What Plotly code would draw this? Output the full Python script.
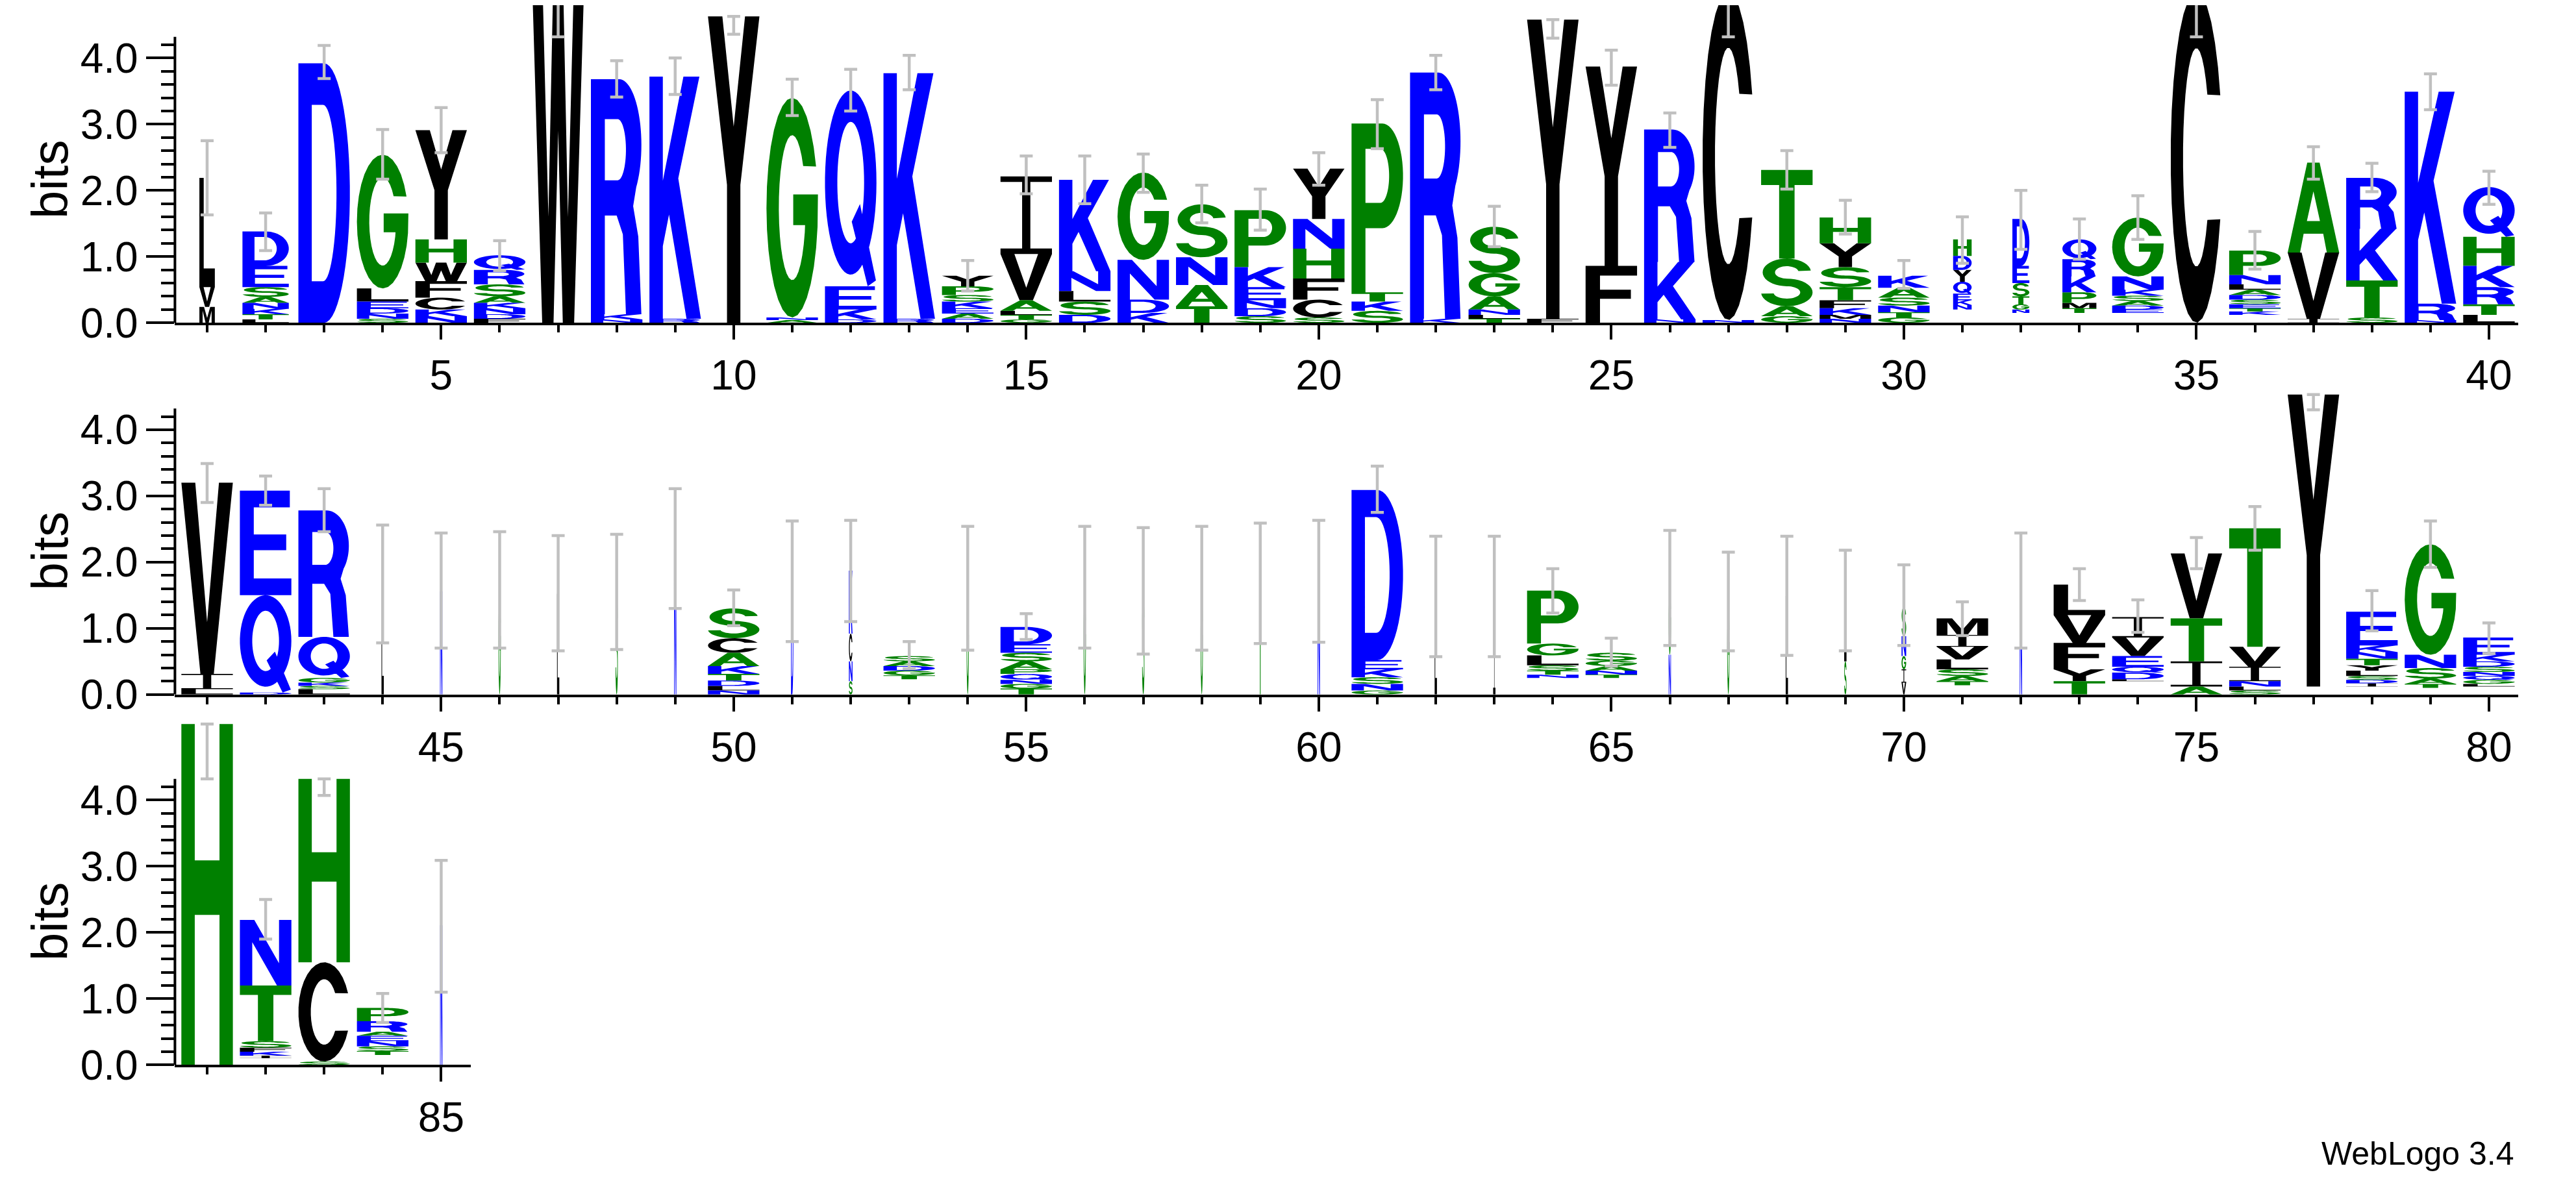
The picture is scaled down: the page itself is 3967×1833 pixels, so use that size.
import numpy as np
import plotly.graph_objects as go

# ---- values read off the logo: letters listed bottom -> top, heights in bits ----
# '-' stands for the pile of letters too small to see at the foot of a stack
positions = list(range(1, 86))

stack_letters = [
    "MVL", "LTKNASED", "D", "SNDELG", "NKCFWHY", "FDNKASRQ", "W", "NKR", "RK", "Y",
    "ANG", "DKEQ", "RK", "DAEKSPY", "GTLAVI", "DSLNK", "KDNG", "TANS", "SDNEKP", "SCFHNY",
    "SKTP", "KR", "TLNAGS", "FY", "FY", "NKR", "NC", "GAST", "NMKFTSYH", "GTNSAK",
    "-NKEQYDH", "-NGTSED", "-TMPKRQ", "-EDASKNG", "C", "-KTESDALNP", "IVA", "STKR", "NRK", "LTRKHQ",
    "LIV", "DQE", "LSKGQR", "L", "N", "G", "L", "S", "N", "NLDTKACS",
    "D", "SNCK", "-TGDAS", "G", "TGNQPASED", "G", "S", "G", "T", "N",
    "GNSKED", "L", "I", "-NTSLGP", "-TNAGS", "NG", "G", "L", "SL", "VIGNS",
    "-TASLVIM", "N", "TYFVL", "-LDQEVI", "AITV", "SLNIVT", "-Y", "-IDSLYTNKE", "-TASNG", "-LGQNSDKE",
    "H", "-IKFSTN", "SCH", "-TSNEARP", "N",
]

stack_heights = [
    [0.24, 0.30, 1.65], [0.05, 0.08, 0.08, 0.09, 0.09, 0.15, 0.32, 0.52], [3.92],
    [0.06, 0.08, 0.08, 0.10, 0.20, 2.02], [0.10, 0.10, 0.18, 0.25, 0.28, 0.35, 1.65],
    [0.06, 0.07, 0.09, 0.08, 0.10, 0.18, 0.22, 0.22], [5.0], [0.05, 0.08, 3.55], [0.06, 3.66], [4.63],
    [0.04, 0.04, 3.32], [0.05, 0.15, 0.35, 2.96], [0.06, 3.71], [0.06, 0.08, 0.08, 0.10, 0.10, 0.13, 0.16],
    [0.05, 0.07, 0.06, 0.16, 0.70, 1.17], [0.12, 0.20, 0.16, 0.30, 1.38], [0.15, 0.20, 0.60, 1.32],
    [0.25, 0.32, 0.42, 0.80], [0.10, 0.12, 0.12, 0.20, 0.30, 0.86], [0.08, 0.27, 0.32, 0.45, 0.45, 0.76],
    [0.18, 0.14, 0.14, 2.55], [0.06, 3.72], [0.06, 0.06, 0.08, 0.20, 0.35, 0.70], [0.06, 4.52],
    [0.86, 3.01], [0.05, 0.87, 2.00], [0.04, 4.96], [0.10, 0.15, 0.72, 1.34],
    [0.06, 0.06, 0.10, 0.12, 0.20, 0.30, 0.36, 0.39], [0.08, 0.08, 0.10, 0.12, 0.15, 0.18],
    [0.20, 0.07, 0.07, 0.10, 0.18, 0.18, 0.21, 0.25], [0.15, 0.05, 0.08, 0.12, 0.20, 0.26, 0.71],
    [0.15, 0.07, 0.08, 0.16, 0.24, 0.26, 0.30], [0.15, 0.05, 0.06, 0.07, 0.08, 0.09, 0.20, 0.89], [5.0],
    [0.12, 0.05, 0.05, 0.06, 0.07, 0.07, 0.08, 0.08, 0.14, 0.37], [0.06, 1.00, 1.36],
    [0.08, 0.56, 0.78, 0.77], [0.04, 0.25, 3.20], [0.12, 0.16, 0.26, 0.32, 0.44, 0.75],
    [0.08, 0.23, 2.89], [0.03, 1.47, 1.58], [0.08, 0.05, 0.05, 0.07, 0.62, 1.91],
    [1.66], [1.56], [1.58], [1.52], [1.54], [2.20], [0.06, 0.07, 0.08, 0.10, 0.12, 0.20, 0.22, 0.45],
    [1.71], [0.20, 0.30, 0.42, 0.95], [0.23, 0.06, 0.07, 0.07, 0.07, 0.08], [1.61],
    [0.09, 0.07, 0.06, 0.09, 0.07, 0.12, 0.13, 0.13, 0.26], [1.63], [1.56], [1.61], [1.68], [1.71],
    [0.06, 0.10, 0.10, 0.12, 0.14, 2.57], [1.47], [1.47], [0.25, 0.05, 0.06, 0.08, 0.15, 0.18, 0.80],
    [0.25, 0.05, 0.06, 0.07, 0.08, 0.12], [0.60, 1.01], [1.42], [1.49], [0.50, 0.92],
    [0.18, 0.20, 0.20, 0.30, 0.44],
    [0.14, 0.06, 0.08, 0.10, 0.15, 0.19, 0.18, 0.25], [1.56], [0.20, 0.18, 0.40, 0.42, 0.46],
    [0.20, 0.03, 0.10, 0.09, 0.16, 0.28, 0.31], [0.12, 0.38, 0.65, 0.98], [0.06, 0.06, 0.08, 0.22, 0.30, 1.79],
    [0.12, 4.41], [0.12, 0.05, 0.05, 0.06, 0.08, 0.08, 0.10, 0.10, 0.10, 0.51],
    [0.10, 0.06, 0.08, 0.16, 0.20, 1.67], [0.12, 0.04, 0.06, 0.06, 0.06, 0.08, 0.08, 0.10, 0.26],
    [5.15], [0.10, 0.04, 0.06, 0.06, 0.10, 0.84, 0.99], [0.05, 1.50, 2.77],
    [0.15, 0.06, 0.07, 0.08, 0.08, 0.06, 0.16, 0.20], [2.11],
]

# relative stack width (share of sequences without a gap)
thin = {44, 45, 46, 47, 48, 49, 51, 54, 56, 57, 58, 59, 60, 62, 63, 66, 67, 68, 69, 72, 85}
stack_width = [0.045 if p in thin else 1.0 for p in positions]
for p, w in {1: 0.3, 2: 0.9, 31: 0.36, 32: 0.33, 33: 0.66, 52: 0.07, 70: 0.09}.items():
    stack_width[p - 1] = w

err_low = [1.63, 1.09, 3.69, 2.17, 2.57, 0.79, 4.32, 3.41, 3.45, 4.36,
           3.13, 3.20, 3.52, 0.48, 1.95, 1.80, 1.97, 1.51, 1.40, 2.08,
           2.63, 3.52, 1.15, 4.30, 3.59, 2.65, 4.32, 2.02, 1.34, 0.52,
           0.90, 1.11, 0.96, 1.26, 4.32, 0.81, 2.17, 1.98, 3.22, 1.79,
           2.90, 2.86, 2.46, 0.78, 0.70, 0.70, 0.66, 0.68, 1.30, 1.04,
           0.80, 1.10, 0.39, 0.67, 0.83, 0.70, 0.61, 0.67, 0.77, 0.79,
           2.75, 0.57, 0.57, 1.23, 0.43, 0.74, 0.66, 0.59, 0.66, 0.74,
           0.89, 0.70, 1.42, 0.94, 1.90, 2.18, 4.30, 0.96, 1.92, 0.62,
           4.32, 1.90, 4.07, 0.64, 1.10]
err_high = [2.75, 1.66, 4.19, 2.92, 3.25, 1.24, 5.00, 3.96, 4.00, 4.61,
            3.68, 3.83, 4.04, 0.94, 2.52, 2.52, 2.55, 2.08, 2.02, 2.57,
            3.37, 4.04, 1.76, 4.56, 4.12, 3.17, 5.00, 2.60, 1.85, 0.94,
            1.60, 2.00, 1.57, 1.92, 5.00, 1.38, 2.66, 2.41, 3.76, 2.29,
            3.49, 3.30, 3.11, 2.56, 2.44, 2.46, 2.40, 2.42, 3.11, 1.58,
            2.62, 2.63, 0.80, 2.54, 1.22, 2.54, 2.52, 2.54, 2.59, 2.63,
            3.45, 2.39, 2.39, 1.90, 0.85, 2.48, 2.15, 2.39, 2.18, 1.96,
            1.40, 2.44, 1.90, 1.43, 2.37, 2.84, 4.52, 1.57, 2.62, 1.08,
            5.13, 2.50, 4.32, 1.08, 3.09]

rows = [(1, 40), (41, 80), (81, 85)]

# hydrophobicity colour scheme
COLORS = {}
for c in "RKDENQ":
    COLORS[c] = "#0000ff"
for c in "SGHTAP":
    COLORS[c] = "#008000"
for c in "YVMCLFIW":
    COLORS[c] = "#000000"


# ---- letter outlines in a unit box, stretched to each letter's box ----
def arc(cx, cy, rx, ry, a0, a1, n=30):
    t = np.radians(np.linspace(a0, a1, n))
    return [(cx + rx * np.cos(a), cy + ry * np.sin(a)) for a in t]


def area(p):
    x = np.array([q[0] for q in p])
    y = np.array([q[1] for q in p])
    return 0.5 * np.sum(x * np.roll(y, -1) - np.roll(x, -1) * y)


def ccw(p, want=True):
    return p if (area(p) > 0) == want else p[::-1]


def holed(outer, hole):
    o = ccw(outer, True)
    h = ccw(hole, False)
    return o + [o[0]] + h + [h[0], o[0]]


GLYPHS = {
    'A': [holed([(0, 0), (0.24, 0), (0.31, 0.21), (0.69, 0.21), (0.76, 0), (1, 0), (0.62, 1), (0.38, 1)],
                [(0.373, 0.35), (0.627, 0.35), (0.5, 0.68)])],
    'C': [arc(0.5, 0.5, 0.5, 0.5, 22, 338) + arc(0.5, 0.5, 0.26, 0.33, 325, 35)],
    'D': [holed([(0, 0), (0.5, 0)] + arc(0.5, 0.5, 0.5, 0.5, -90, 90) + [(0, 1)],
                [(0.26, 0.16), (0.48, 0.16)] + arc(0.48, 0.5, 0.26, 0.34, -90, 90) + [(0.26, 0.84)])],
    'E': [[(0, 0), (1, 0), (1, 0.16), (0.27, 0.16), (0.27, 0.43), (0.9, 0.43), (0.9, 0.58),
           (0.27, 0.58), (0.27, 0.84), (0.97, 0.84), (0.97, 1), (0, 1)]],
    'F': [[(0, 0), (0.28, 0), (0.28, 0.42), (0.88, 0.42), (0.88, 0.58), (0.28, 0.58),
           (0.28, 0.83), (1, 0.83), (1, 1), (0, 1)]],
    'G': [arc(0.5, 0.5, 0.5, 0.5, 22, 350) + [(1, 0.56), (0.52, 0.56), (0.52, 0.42), (0.75, 0.42)]
          + arc(0.5, 0.5, 0.26, 0.33, -20, -325)],
    'H': [[(0, 0), (0.26, 0), (0.26, 0.44), (0.74, 0.44), (0.74, 0), (1, 0), (1, 1), (0.74, 1),
           (0.74, 0.6), (0.26, 0.6), (0.26, 1), (0, 1)]],
    'I': [[(0, 0), (1, 0), (1, 0.07), (0.58, 0.07), (0.58, 0.93), (1, 0.93), (1, 1), (0, 1),
           (0, 0.93), (0.42, 0.93), (0.42, 0.07), (0, 0.07)]],
    'K': [[(0, 0), (0.26, 0), (0.26, 0.3), (0.38, 0.43), (0.72, 0), (1, 0), (0.56, 0.58),
           (0.97, 1), (0.66, 1), (0.26, 0.57), (0.26, 1), (0, 1)]],
    'L': [[(0, 0), (1, 0), (1, 0.17), (0.28, 0.17), (0.28, 1), (0, 1)]],
    'M': [[(0, 0), (0.21, 0), (0.21, 0.76), (0.4, 0), (0.6, 0), (0.79, 0.76), (0.79, 0), (1, 0),
           (1, 1), (0.7, 1), (0.5, 0.3), (0.3, 1), (0, 1)]],
    'N': [[(0, 0), (0.24, 0), (0.24, 0.66), (0.72, 0), (1, 0), (1, 1), (0.76, 1), (0.76, 0.34),
           (0.28, 1), (0, 1)]],
    'P': [holed([(0, 0), (0.27, 0), (0.27, 0.38), (0.6, 0.38)] + arc(0.6, 0.69, 0.4, 0.31, -90, 90) + [(0, 1)],
                [(0.27, 0.53), (0.56, 0.53)] + arc(0.56, 0.69, 0.17, 0.16, -90, 90) + [(0.27, 0.85)])],
    'Q': [holed(arc(0.5, 0.53, 0.5, 0.47, 0, 360, 60)[:-1], arc(0.5, 0.53, 0.26, 0.31, 0, 360, 60)[:-1]),
          ccw([(0.52, 0.33), (0.68, 0.42), (0.99, 0.03), (0.83, 0.0)])],
    'R': [holed([(0, 0), (0.27, 0), (0.27, 0.42), (0.5, 0.42), (0.62, 0.34), (0.68, 0), (0.98, 0),
                 (0.92, 0.33), (0.82, 0.46)] + arc(0.55, 0.72, 0.43, 0.28, -40, 90) + [(0, 1)],
                [(0.27, 0.57), (0.52, 0.57)] + arc(0.52, 0.7, 0.16, 0.13, -90, 90) + [(0.27, 0.83)])],
    'S': [arc(0.5, 0.71, 0.47, 0.29, 8, 270) + arc(0.5, 0.29, 0.26, 0.13, 90, -170)
          + arc(0.5, 0.29, 0.5, 0.29, -175, 90) + arc(0.5, 0.71, 0.23, 0.13, 270, 12)],
    'T': [[(0.35, 0), (0.65, 0), (0.65, 0.83), (1, 0.83), (1, 1), (0, 1), (0, 0.83), (0.35, 0.83)]],
    'V': [[(0, 1), (0.37, 0), (0.63, 0), (1, 1), (0.73, 1), (0.5, 0.27), (0.27, 1)]],
    'W': [[(0, 1), (0.19, 0), (0.41, 0), (0.5, 0.58), (0.59, 0), (0.81, 0), (1, 1), (0.8, 1),
           (0.69, 0.32), (0.6, 1), (0.4, 1), (0.31, 0.32), (0.2, 1)]],
    'Y': [[(0, 1), (0.37, 0.45), (0.37, 0), (0.63, 0), (0.63, 0.45), (1, 1), (0.72, 1),
           (0.5, 0.64), (0.28, 1)]],
}

FONT = "Liberation Sans, Arial, sans-serif"
W_FULL = 0.88
H_PX = 1833
x_domains = [[261.4 / 3967, 3870 / 3967], [261.4 / 3967, 3870 / 3967], [261.4 / 3967, 716.5 / 3967]]
y_domains = [[1 - 499 / H_PX, 1.0], [1 - 1083 / H_PX, 1 - 584 / H_PX], [1 - 1665 / H_PX, 1 - 1113 / H_PX]]
y_tops = [499 / 104, 499 / 104, 552 / 104]

fig = go.Figure()
layout = {}
shapes = []
annotations = []

for r, (first, last) in enumerate(rows):
    xa = 'x' if r == 0 else f'x{r + 1}'
    ya = 'y' if r == 0 else f'y{r + 1}'
    buckets = {}
    for p in range(first, last + 1):
        i = p - 1
        w = W_FULL * stack_width[i]
        base = 0.0
        for let, h in zip(stack_letters[i], stack_heights[i]):
            if let != '-':
                xs, ys = buckets.setdefault(COLORS[let], ([], []))
                for poly in GLYPHS[let]:
                    xs += [p + (gx - 0.5) * w for gx, _ in poly] + [None]
                    ys += [base + gy * h for _, gy in poly] + [None]
            base += h
    for col, (xs, ys) in buckets.items():
        fig.add_trace(go.Scatter(x=xs, y=ys, xaxis=xa, yaxis=ya, mode='none', fill='toself',
                                 fillcolor=col, hoverinfo='skip', showlegend=False))

    idx = list(range(first - 1, last))
    tops = [sum(stack_heights[i]) for i in idx]
    fig.add_trace(go.Scatter(
        x=[positions[i] for i in idx], y=tops, xaxis=xa, yaxis=ya, mode='markers',
        marker=dict(size=2, color='rgba(0,0,0,0)'),
        error_y=dict(type='data', symmetric=False,
                     array=[max(err_high[i] - t, 0) for i, t in zip(idx, tops)],
                     arrayminus=[max(t - err_low[i], 0) for i, t in zip(idx, tops)],
                     color='#c0c0c0', thickness=4.5, width=10),
        hoverinfo='skip', showlegend=False))

    tickfont = dict(family=FONT, size=64, color='black')
    layout['xaxis' if r == 0 else f'xaxis{r + 1}'] = dict(
        domain=x_domains[r], range=[first - 0.55, last + 0.5], anchor=ya,
        showline=True, linecolor='black', linewidth=4, showgrid=False, zeroline=False,
        ticks='outside', tickvals=[v for v in range(first, last + 1) if v % 5 == 0],
        ticklen=22, tickwidth=4, tickcolor='black', tickfont=tickfont,
        minor=dict(tickvals=list(range(first, last + 1)), ticks='outside',
                   ticklen=11, tickwidth=4, tickcolor='black'))
    layout['yaxis' if r == 0 else f'yaxis{r + 1}'] = dict(
        domain=y_domains[r], range=[0, y_tops[r]], anchor=xa,
        showline=False, showgrid=False, zeroline=False,
        ticks='outside', tickvals=[0, 1, 2, 3, 4], ticktext=['0.0', '1.0', '2.0', '3.0', '4.0'],
        ticklen=43, tickwidth=4, tickcolor='black', tickfont=tickfont,
        minor=dict(tickvals=[round(0.2 * k, 1) for k in range(22) if k % 5], ticks='outside',
                   ticklen=20, tickwidth=4, tickcolor='black'))
    shapes.append(dict(type='line', xref=f'{xa} domain', x0=0, x1=0, yref=ya, y0=0, y1=4.32,
                       line=dict(color='black', width=4)))
    annotations.append(dict(text='bits', xref='paper', x=69 / 3967, yref=ya, y=2.16,
                            textangle=-90, showarrow=False, xanchor='center', yanchor='middle',
                            font=dict(family=FONT, size=78, color='black')))

annotations.append(dict(text='WebLogo 3.4', xref='paper', x=3866 / 3967, xanchor='right',
                        yref='paper', y=1 - 1804 / H_PX, yanchor='middle', showarrow=False,
                        font=dict(family=FONT, size=50, color='black')))

fig.update_layout(**layout)
fig.update_layout(width=3967, height=1833, margin=dict(l=0, r=0, t=0, b=0),
                  paper_bgcolor='white', plot_bgcolor='white', showlegend=False,
                  shapes=shapes, annotations=annotations)

fig.write_html("out.html")
